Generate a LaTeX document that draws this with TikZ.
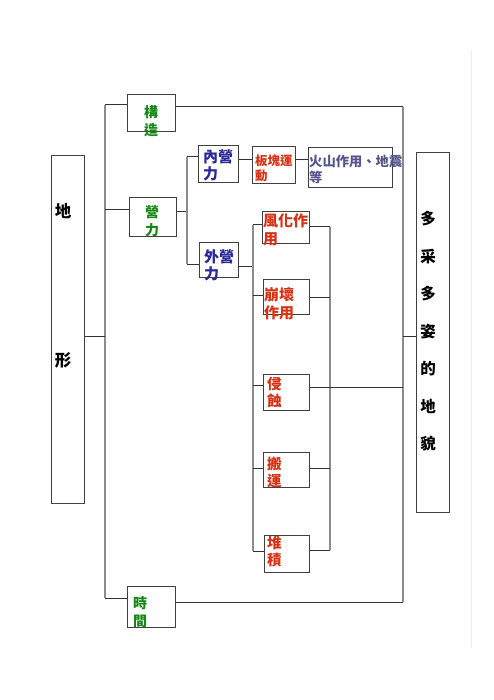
\documentclass[tikz,border=0pt]{standalone}
\usepackage{fontspec}
\newfontfamily\cjk{Noto Sans CJK TC}
\definecolor{grn}{RGB}{20,135,20}
\definecolor{blu}{RGB}{40,40,155}
\definecolor{rd}{RGB}{215,50,20}
\definecolor{slt}{RGB}{85,85,140}
\begin{document}
\begin{tikzpicture}[x=1pt, y=-1pt,
  box/.style={draw=black!75, line width=0.8pt, fill=white, anchor=north west, inner sep=0pt},
  txt/.style={anchor=north west, inner sep=0pt, align=left},
  hl/.style={draw=black!80, line width=1pt},
  vl/.style={draw=black!45, line width=1.2pt}]
            % page
            \fill[white] (0,0) rectangle (494,700);
            \useasboundingbox (0,0) rectangle (494,700);
            \draw[black!7, line width=1pt] (471,50) -- (471,648);

            % Boxes
            \node[box, minimum width=33pt, minimum height=348pt] (dixing) at (51,155) {};
            \node[box, minimum width=48pt, minimum height=37pt] (gouzao) at (127,94) {};
            \node[box, minimum width=47pt, minimum height=39pt] (yingli) at (129,197) {};
            \node[box, minimum width=48pt, minimum height=41pt] (shijian) at (127,586) {};
            \node[box, minimum width=40pt, minimum height=37pt] (nei) at (198,145) {};
            \node[box, minimum width=39pt, minimum height=35pt] (wai) at (199,242) {};
            \node[box, minimum width=43pt, minimum height=37pt] (bankuai) at (252,146) {};
            \node[box, minimum width=84pt, minimum height=40pt] (huoshan) at (308,147) {};
            \node[box, minimum width=47pt, minimum height=32pt] (fenghua) at (262,211) {};
            \node[box, minimum width=46pt, minimum height=35pt] (benghuai) at (263,279) {};
            \node[box, minimum width=46pt, minimum height=36pt] (qinshi) at (263,374) {};
            \node[box, minimum width=46pt, minimum height=35pt] (banyun) at (263,452) {};
            \node[box, minimum width=45pt, minimum height=37pt] (duiji) at (264,535) {};
            \node[box, minimum width=33pt, minimum height=360pt] (diamao) at (416,152) {};

            % Texts
            \node[font=\cjk\bfseries\fontsize{16.5}{16}\selectfont] (t-di) at (63,211) {地};
            \node[font=\cjk\bfseries\fontsize{16.5}{16}\selectfont] (t-xing) at (63,360) {形};
            \node[txt, anchor=north, align=center, text=grn, font=\cjk\bfseries\fontsize{14}{17.5}\selectfont] (t-gouzao) at (151,105.5) {構\\造};
            \node[txt, anchor=north, align=center, text=grn, font=\cjk\bfseries\fontsize{14}{17.5}\selectfont] (t-yingli) at (152,205.5) {營\\力};
            \node[txt, text=grn, font=\cjk\bfseries\fontsize{14}{17.5}\selectfont] (t-shijian) at (133,596.5) {時\\間};
            \node[txt, text=blu, font=\cjk\bfseries\fontsize{15}{17}\selectfont] (t-nei) at (203,149) {內營\\力};
            \node[txt, text=blu, font=\cjk\bfseries\fontsize{15}{17}\selectfont] (t-wai) at (204,249) {外營\\力};
            \node[txt, text=rd, font=\cjk\bfseries\fontsize{12.5}{15}\selectfont] (t-bankuai) at (255,155) {板塊運\\動};
            \node[txt, text=slt, font=\cjk\bfseries\fontsize{13.3}{16}\selectfont] (t-huoshan) at (309,155) {火山作用、地震\\等};
            \node[txt, text=rd, font=\cjk\bfseries\fontsize{15}{17.5}\selectfont] (t-fenghua) at (263,214) {風化作\\用};
            \node[txt, text=rd, font=\cjk\bfseries\fontsize{15}{18}\selectfont] (t-benghuai) at (264,287) {崩壞\\作用};
            \node[txt, text=rd, font=\cjk\bfseries\fontsize{14.5}{17.5}\selectfont] (t-qinshi) at (267,376.5) {侵\\蝕};
            \node[txt, text=rd, font=\cjk\bfseries\fontsize{14.5}{17.5}\selectfont] (t-banyun) at (267,456.5) {搬\\運};
            \node[txt, text=rd, font=\cjk\bfseries\fontsize{14.5}{17.5}\selectfont] (t-duiji) at (267,535.5) {堆\\積};
            \foreach \c [count=\i] in {多,采,多,姿,的,地,貌}
              \node[font=\cjk\bfseries\fontsize{15.5}{15}\selectfont] (t-m\i) at (428,{181.6+37.4*\i}) {\c};

            % left bus
            \coordinate (a1) at (105,105);
            \coordinate (a2) at (105,210);
            \coordinate (a3) at (105,336);
            \coordinate (a4) at (105,598);
            \draw[vl] (a1) -- (a4);
            \draw[hl] (a1) -- (a1 -| gouzao.west);
            \draw[hl] (a2) -- (a2 -| yingli.west);
            \draw[hl] (dixing.east |- a3) -- (a3);
            \draw[hl] (a4) -- (a4 -| shijian.west);

            % right bus
            \coordinate (b1) at (403,107);
            \coordinate (b2) at (403,336);
            \coordinate (b3) at (403,387);
            \coordinate (b4) at (403,602);
            \draw[vl] (b1) -- (b4);
            \draw[hl] (gouzao.east |- b1) -- (b1);
            \draw[hl] (shijian.east |- b4) -- (b4);
            \draw[hl] (b2) -- (diamao.west |- b2);

            % yingli split
            \coordinate (c0) at (187,212);
            \coordinate (c1) at (187,157);
            \coordinate (c2) at (187,264);
            \draw[hl] (yingli.east |- c0) -- (c0);
            \draw[vl] (c1) -- (c2);
            \draw[hl] (c1) -- (c1 -| nei.west);
            \draw[hl] (c2) -- (c2 -| wai.west);
            \coordinate (d) at (245,160);
            \draw[hl] (nei.east |- d) -- (bankuai.west |- d);
            \draw[hl] (bankuai.east |- d) -- (huoshan.west |- d);

            % waiyingli split
            \coordinate (e0) at (253,266);
            \coordinate (e1) at (253,225);
            \coordinate (e2) at (253,551);
            \coordinate (g1) at (330,227);
            \coordinate (g2) at (330,550);
            \draw[hl] (wai.east |- e0) -- (e0);
            \draw[vl] (e1) -- (e2);
            \draw[vl] (g1) -- (g2);
            \foreach \n/\y in {fenghua/225, benghuai/295, qinshi/385, banyun/468, duiji/551}
              \draw[hl] (e1 |- 0,\y) -- (\n.west |- 0,\y);
            \foreach \n/\y in {fenghua/227, benghuai/297, banyun/468, duiji/550}
              \draw[hl] (\n.east |- 0,\y) -- (g1 |- 0,\y);
            \draw[hl] (qinshi.east |- b3) -- (b3);
          \end{tikzpicture}
\end{document}
